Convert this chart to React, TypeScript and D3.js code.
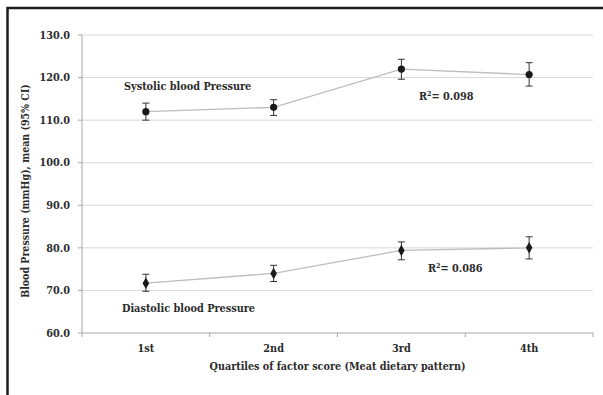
import * as d3 from 'd3'

const quartiles = ['1st', '2nd', '3rd', '4th']
const systolic = [112.0, 113.0, 122.0, 120.7]
const systolicLo = [110.0, 111.1, 119.6, 118.0]
const systolicHi = [114.0, 114.8, 124.3, 123.5]
const diastolic = [71.7, 74.0, 79.4, 80.0]
const diastolicLo = [69.8, 72.1, 77.2, 77.4]
const diastolicHi = [73.8, 75.9, 81.4, 82.6]
const yTicks = [60, 70, 80, 90, 100, 110, 120, 130]

const W = 603
const H = 395
const margin = { left: 82, right: 10, top: 35, bottom: 62 }
const FONT = '"DejaVu Serif Condensed", "DejaVu Serif", serif'
const TEXT = '#2b2b2b'

export default function App() {
  const x = d3.scaleBand().domain(quartiles).range([margin.left, W - margin.right])
  const y = d3.scaleLinear().domain([60, 130]).range([H - margin.bottom, margin.top])
  const cx = (q: string) => (x(q) as number) + x.bandwidth() / 2
  const line = d3
    .line<number>()
    .x((_, i) => cx(quartiles[i]))
    .y((d) => y(d))
  const diamond = d3.symbol().type(d3.symbolDiamond).size(38)()

  const series = [
    { vals: systolic, lo: systolicLo, hi: systolicHi, marker: 'circle' },
    { vals: diastolic, lo: diastolicLo, hi: diastolicHi, marker: 'diamond' },
  ]
  const x0 = margin.left
  const x1 = W - margin.right
  const yBase = y(60)
  const bounds = [...quartiles.map((q) => x(q) as number), x1]

  return (
    <div style={{ position: 'absolute', left: 0, top: 0 }}>
      <svg width={W} height={H} style={{ display: 'block', background: '#fff' }}>
        {/* frame (cropped box) */}
        <path d={`M7.5,${H} V8 H${W}`} fill="none" stroke="#1e1e1e" strokeWidth={2.5} />

        {/* gridlines */}
        {yTicks.slice(1).map((t) => (
          <line key={t} x1={x0} x2={x1} y1={y(t)} y2={y(t)} stroke="#d9d9d9" strokeWidth={1} />
        ))}

        {/* y axis */}
        <line x1={x0} x2={x0} y1={y(130)} y2={yBase} stroke="#a6a6a6" />
        {yTicks.map((t) => (
          <g key={t}>
            <line x1={x0 - 4} x2={x0} y1={y(t)} y2={y(t)} stroke="#a6a6a6" />
            <text
              x={x0 - 12}
              y={y(t)}
              dy="0.35em"
              textAnchor="end"
              fontFamily={FONT}
              fontWeight="bold"
              fontSize={10.8}
              fill={TEXT}
            >
              {d3.format('.1f')(t)}
            </text>
          </g>
        ))}

        {/* x axis */}
        <line x1={x0} x2={x1} y1={yBase} y2={yBase} stroke="#a6a6a6" />
        {bounds.map((b, i) => (
          <line key={i} x1={b} x2={b} y1={yBase} y2={yBase + 4} stroke="#a6a6a6" />
        ))}
        {quartiles.map((q) => (
          <text
            key={q}
            x={cx(q)}
            y={yBase + 19}
            textAnchor="middle"
            fontFamily={FONT}
            fontWeight="bold"
            fontSize={10.8}
            fill={TEXT}
          >
            {q}
          </text>
        ))}
        <text
          x={(x0 + x1) / 2}
          y={yBase + 37}
          textAnchor="middle"
          fontFamily={FONT}
          fontWeight="bold"
          fontSize={10.7}
          fill={TEXT}
        >
          Quartiles of factor score (Meat dietary pattern)
        </text>
        <text
          transform={`translate(29,${191}) rotate(-90)`}
          textAnchor="middle"
          fontFamily={FONT}
          fontWeight="bold"
          fontSize={10.5}
          fill={TEXT}
        >
          Blood Pressure (mmHg), mean (95% CI)
        </text>

        {/* series */}
        {series.map((s, si) => (
          <g key={si}>
            <path d={line(s.vals) ?? ''} fill="none" stroke="#bdbdbd" strokeWidth={1.3} />
            {s.vals.map((v, i) => {
              const px = cx(quartiles[i])
              return (
                <g key={i}>
                  <line x1={px} x2={px} y1={y(s.lo[i])} y2={y(s.hi[i])} stroke="#333" strokeWidth={1} />
                  <line x1={px - 3.5} x2={px + 3.5} y1={y(s.lo[i])} y2={y(s.lo[i])} stroke="#333" strokeWidth={1} />
                  <line x1={px - 3.5} x2={px + 3.5} y1={y(s.hi[i])} y2={y(s.hi[i])} stroke="#333" strokeWidth={1} />
                  {s.marker === 'circle' ? (
                    <circle cx={px} cy={y(v)} r={3.6} fill="#1a1a1a" />
                  ) : (
                    <path d={diamond ?? ''} transform={`translate(${px},${y(v)})`} fill="#1a1a1a" />
                  )}
                </g>
              )
            })}
          </g>
        ))}

        {/* annotations */}
        <text x={124} y={y(118.0)} dy="0.35em" fontFamily={FONT} fontWeight="bold" fontSize={10.8} fill={TEXT}>
          Systolic blood Pressure
        </text>
        <text x={419} y={y(115.7)} dy="0.35em" fontFamily={FONT} fontWeight="bold" fontSize={10.8} fill={TEXT}>
          R<tspan dy="-4" fontSize={7}>2</tspan>
          <tspan dy="4">= 0.098</tspan>
        </text>
        <text x={428} y={y(75.3)} dy="0.35em" fontFamily={FONT} fontWeight="bold" fontSize={10.8} fill={TEXT}>
          R<tspan dy="-4" fontSize={7}>2</tspan>
          <tspan dy="4">= 0.086</tspan>
        </text>
        <text x={122} y={y(65.8)} dy="0.35em" fontFamily={FONT} fontWeight="bold" fontSize={10.8} fill={TEXT}>
          Diastolic blood Pressure
        </text>
      </svg>
    </div>
  )
}
